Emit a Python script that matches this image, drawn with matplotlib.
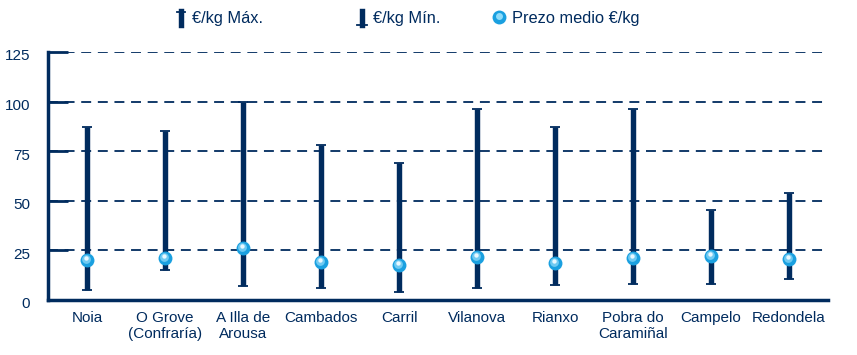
import matplotlib
matplotlib.use('Agg')
from matplotlib import pyplot as plt
from matplotlib.lines import Line2D
from matplotlib import transforms
import numpy as np

plt.rcParams['font.family'] = ['Liberation Sans', 'DejaVu Sans']

# Data
ports = ['Noia', 'O Grove\n(Confraría)', 'A Illa de\nArousa', 'Cambados', 'Carril',
         'Vilanova', 'Rianxo', 'Pobra do\nCaramiñal', 'Campelo', 'Redondela']
price_max = [87, 85, 100, 78, 69, 96.5, 87, 96.5, 45.5, 54]
price_min = [5, 15, 7, 6, 4, 6, 7.5, 8, 8, 10.5]
price_avg = [20, 21, 26, 19, 17.5, 21.5, 18.5, 21, 22, 20.5]
yticks = [0, 25, 50, 75, 100, 125]

navy = '#002b5e'
ball = '#1aa0e0'

W, H = 857, 355
fig = plt.figure(figsize=(W / 100, H / 100), dpi=100)
ax = fig.add_axes([48 / W, 1 - 300 / H, 780 / W, 248 / H])

x = np.arange(len(ports))
ax.set_xlim(-0.5, len(ports) - 0.5)
ax.set_ylim(0, 125)

# dashed grid
for v in yticks[1:]:
    ax.plot([-0.5, len(ports) - 0.57], [v, v], color=navy, lw=1.3,
            dashes=(5.5, 3.7), zorder=1)

# min-max bars with caps
ax.vlines(x, price_min, price_max, color=navy, lw=3.9, zorder=2)
ax.hlines(price_max, x - 0.065, x + 0.065, color=navy, lw=1.3, zorder=2)
ax.hlines(price_min, x - 0.065, x + 0.065, color=navy, lw=1.3, zorder=2)

# mean "balls"
avg = np.array(price_avg)
ax.scatter(x, avg, s=100, color=ball, zorder=3, linewidths=0)
ax.scatter(x - 0.012, avg + 0.7, s=40, color='#6fcaf2', zorder=4, linewidths=0)
ax.scatter(x - 0.015, avg + 1.0, s=10, color='#e8f8ff', zorder=5, linewidths=0)

for side in ['top', 'right']:
    ax.spines[side].set_visible(False)
for side in ['left', 'bottom']:
    ax.spines[side].set_color(navy)
    ax.spines[side].set_linewidth(2.5)

ax.set_yticks(yticks)
ax.set_yticklabels([str(v) for v in yticks])
ax.tick_params(axis='y', direction='in', length=14.5, width=2, color=navy,
               labelcolor=navy, labelsize=11, pad=13)
shift = transforms.ScaledTranslation(0, -3 / 100, fig.dpi_scale_trans)
for lab in ax.get_yticklabels():
    lab.set_transform(lab.get_transform() + shift)

ax.set_xticks(x)
ax.set_xticklabels(ports, linespacing=1.15)
ax.tick_params(axis='x', length=0, labelcolor=navy, labelsize=11, pad=8)

# legend drawn by hand
def fx(px):
    return px / W

def fy(py):
    return 1 - py / H

ly = 18
# max symbol: bar with top cap
fig.add_artist(Line2D([fx(181), fx(181)], [fy(ly - 7), fy(ly + 7)], color=navy, lw=3.9))
fig.add_artist(Line2D([fx(177), fx(185)], [fy(ly - 6.5), fy(ly - 6.5)], color=navy, lw=1.3))
fig.text(fx(192), fy(ly), '€/kg Máx.', color=navy, fontsize=11.8, va='center')
# min symbol: bar with bottom cap
fig.add_artist(Line2D([fx(362), fx(362)], [fy(ly - 7), fy(ly + 7)], color=navy, lw=3.9))
fig.add_artist(Line2D([fx(357), fx(367)], [fy(ly + 6.5), fy(ly + 6.5)], color=navy, lw=1.3))
fig.text(fx(373), fy(ly), '€/kg Mín.', color=navy, fontsize=11.8, va='center')
# mean symbol
fig.add_artist(Line2D([fx(499)], [fy(ly - 1)], marker='o', ms=10, color=ball, mew=0))
fig.add_artist(Line2D([fx(498.5)], [fy(ly - 2)], marker='o', ms=5, color='#8fdcfa', mew=0))
fig.text(fx(512), fy(ly), 'Prezo medio €/kg', color=navy, fontsize=11.8, va='center')

fig.savefig('out.png', dpi=100)
